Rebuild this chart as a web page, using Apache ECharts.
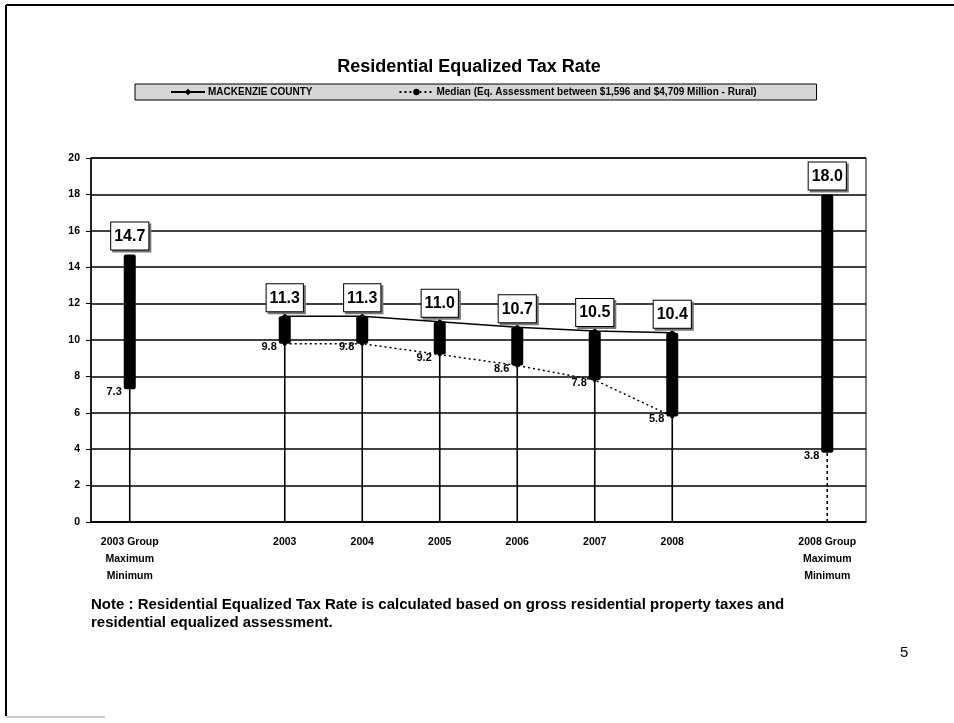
<!DOCTYPE html>
<html>
<head>
<meta charset="utf-8">
<script src="https://cdn.jsdelivr.net/npm/echarts@6/dist/echarts.min.js"></script>
<style>
  html, body { margin: 0; padding: 0; background: #fff; }
  #tax_rate { width: 954px; height: 723px; }
</style>
</head>
<body>
<div id="tax_rate"></div>
<script>
var categories = ['2003 Group\nMaximum\nMinimum', '', '2003', '2004', '2005', '2006', '2007', '2008', '', '2008 Group\nMaximum\nMinimum']
var yearIndex = [2, 3, 4, 5, 6, 7]
var countyRate = [11.3, 11.3, 11.0, 10.7, 10.5, 10.4]
var medianRate = [9.8, 9.8, 9.2, 8.6, 7.8, 5.8]
var groupIndex = [0, 9]
var groupMax = [14.7, 18.0]
var groupMin = [7.3, 3.8]

var countyName = 'MACKENZIE COUNTY'
var medianName = 'Median (Eq. Assessment between $1,596 and $4,709 Million - Rural)'

// build series data from the arrays above
var countyLine = categories.map(function () { return null })
var medianLine = categories.map(function () { return null })
var ranges = []
yearIndex.forEach(function (idx, i) {
  countyLine[idx] = countyRate[i]
  medianLine[idx] = medianRate[i]
  ranges.push([idx, medianRate[i], countyRate[i], 0])
})
groupIndex.forEach(function (idx, i) {
  ranges.push([idx, groupMin[i], groupMax[i], i === 1 ? 1 : 0])
})
var highPoints = ranges.map(function (r) { return [r[0], r[2]] })
var lowPoints = ranges.map(function (r) { return [r[0], r[1]] })

var font = 'Liberation Sans, Arial, sans-serif'
var myChart = echarts.init(document.getElementById('tax_rate'))

var boxLabel = {
  show: true,
  position: 'top',
  distance: 5,
  formatter: function (p) { return p.value[1].toFixed(1) },
  fontFamily: font,
  fontSize: 16,
  fontWeight: 'bold',
  color: '#000',
  backgroundColor: '#fff',
  borderColor: '#000',
  borderWidth: 1,
  padding: [6, 3, 5, 3]
}

var option = {
  backgroundColor: '#fff',
  animation: false,
  title: {
    text: 'Residential Equalized Tax Rate',
    left: 464,
    textAlign: 'center',
    top: 53,
    textStyle: { fontFamily: font, fontSize: 18, fontWeight: 'bold', color: '#000' }
  },
  legend: {
    left: 135,
    top: 84,
    data: [countyName, medianName],
    backgroundColor: '#d6d6d6',
    borderColor: '#000',
    borderWidth: 1,
    borderRadius: 0,
    padding: [3, 60, 3, 35],
    itemGap: 86,
    itemWidth: 34,
    itemHeight: 8,
    textStyle: { fontFamily: font, fontSize: 10, fontWeight: 'bold', color: '#000', padding: [0, 0, 0, -2] }
  },
  grid: {
    left: 91,
    right: 88,
    top: 158,
    bottom: 201,
    show: true,
    borderColor: '#000',
    borderWidth: 1
  },
  xAxis: {
    type: 'category',
    data: categories,
    boundaryGap: true,
    axisLine: { lineStyle: { color: '#000', width: 1.5 } },
    axisTick: { lineStyle: { color: '#000' }, length: 4 },
    axisLabel: {
      interval: 0,
      margin: 12,
      color: '#000',
      fontFamily: font,
      fontSize: 10.5,
      fontWeight: 'bold',
      lineHeight: 17
    }
  },
  yAxis: {
    type: 'value',
    min: 0,
    max: 20,
    interval: 2,
    axisLine: { show: true, lineStyle: { color: '#000', width: 1.5 } },
    axisTick: { show: true, inside: false, length: 5, lineStyle: { color: '#000' } },
    splitLine: { lineStyle: { color: '#000', width: 1.5 } },
    axisLabel: {
      color: '#000',
      fontFamily: font,
      fontSize: 10.5,
      fontWeight: 'bold',
      margin: 11
    }
  },
  series: [
    {
      name: countyName,
      type: 'line',
      data: countyLine,
      z: 2,
      symbol: 'diamond',
      symbolSize: 6,
      itemStyle: { color: '#000' },
      lineStyle: { color: '#000', width: 1.5 }
    },
    {
      name: medianName,
      type: 'line',
      data: medianLine,
      z: 2,
      symbol: 'circle',
      symbolSize: 4,
      itemStyle: { color: '#000' },
      lineStyle: { color: '#000', width: 1.5, type: [2, 3] }
    },
    {
      name: 'range',
      type: 'custom',
      z: 3,
      data: ranges,
      encode: { x: 0, y: [1, 2] },
      renderItem: function (params, api) {
        var base = api.coord([api.value(0), 0])
        var low = api.coord([api.value(0), api.value(1)])
        var high = api.coord([api.value(0), api.value(2)])
        var dashed = api.value(3) === 1
        return {
          type: 'group',
          children: [
            {
              type: 'line',
              shape: { x1: base[0], y1: base[1], x2: low[0], y2: low[1] },
              style: { stroke: '#000', lineWidth: 1.6, lineDash: dashed ? [3, 3] : null }
            },
            {
              type: 'rect',
              shape: { x: high[0] - 6, y: high[1], width: 12, height: low[1] - high[1], r: 2 },
              style: { fill: '#000' }
            }
          ]
        }
      }
    },
    {
      // drop shadow behind the value boxes
      name: 'highShadow',
      type: 'scatter',
      z: 4,
      data: highPoints,
      symbolSize: 0,
      silent: true,
      itemStyle: { opacity: 1 },
      label: Object.assign({}, boxLabel, {
        color: 'rgba(0,0,0,0)',
        backgroundColor: '#777',
        borderColor: '#777',
        offset: [2, 2]
      })
    },
    {
      name: 'high',
      type: 'scatter',
      z: 5,
      data: highPoints,
      symbolSize: 0,
      silent: true,
      itemStyle: { opacity: 1 },
      label: boxLabel
    },
    {
      name: 'low',
      type: 'scatter',
      z: 5,
      data: lowPoints,
      symbolSize: 0,
      silent: true,
      itemStyle: { opacity: 1 },
      label: {
        show: true,
        position: 'left',
        distance: 8,
        offset: [0, 3],
        formatter: function (p) { return p.value[1].toFixed(1) },
        fontFamily: font,
        fontSize: 11,
        fontWeight: 'bold',
        color: '#000'
      }
    }
  ],
  graphic: [
    { type: 'line', shape: { x1: 6, y1: 5, x2: 954, y2: 5 }, style: { stroke: '#000', lineWidth: 2 } },
    { type: 'line', shape: { x1: 6, y1: 5, x2: 6, y2: 716 }, style: { stroke: '#000', lineWidth: 2 } },
    { type: 'line', shape: { x1: 6, y1: 717, x2: 105, y2: 717 }, style: { stroke: '#bbb', lineWidth: 1.5 } },
    {
      type: 'text',
      left: 91,
      top: 596,
      style: {
        text: 'Note : Residential Equalized Tax Rate is calculated based on gross residential property taxes and\nresidential equalized assessment.',
        font: 'bold 15px ' + font,
        lineHeight: 18,
        fill: '#000'
      }
    },
    {
      type: 'text',
      left: 900,
      top: 645,
      style: { text: '5', font: '15px ' + font, fill: '#000' }
    }
  ]
}

myChart.setOption(option)
</script>
</body>
</html>
